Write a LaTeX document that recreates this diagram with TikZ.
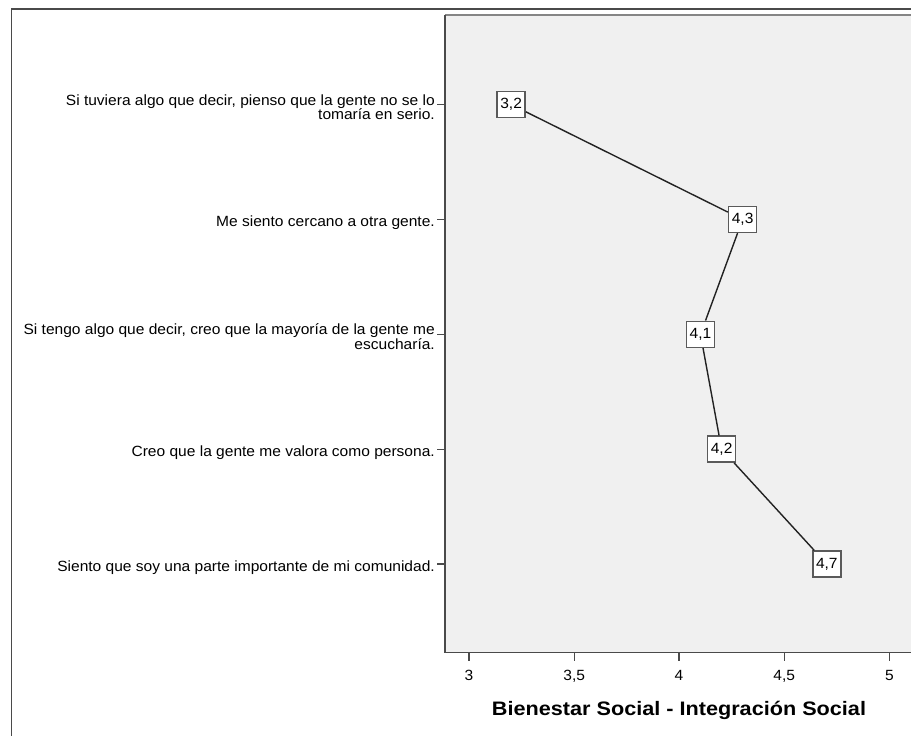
\documentclass[tikz,border=0pt]{standalone}
\usepackage{fontspec}
\setmainfont{Liberation Sans}[FakeStretch=1.05]
\newfontfamily\titlefont{Liberation Sans}[FakeStretch=1.11]
\definecolor{plotbg}{HTML}{F0F0F0}
\definecolor{framecol}{HTML}{4A4A4A}
\definecolor{topcol}{HTML}{858585}
\definecolor{boxcol}{HTML}{5A5A5A}
\definecolor{linecol}{HTML}{222222}
\tikzset{
  lbl/.style={font=\fontsize{14.8}{14.8}\selectfont, inner sep=0pt, text=black},
  ttl/.style={font=\titlefont\bfseries\fontsize{19.5}{19.5}\selectfont, inner sep=0pt},
  valbox/.style={draw=boxcol, fill=white, line width=1.5pt, minimum width=28pt,
    minimum height=26pt, inner sep=0pt, font=\fontsize{14.8}{14.8}\selectfont},
  frameline/.style={draw=framecol, line width=1.6pt},
  axisline/.style={draw=framecol, line width=1.6pt},
  tickline/.style={draw=framecol, line width=1.3pt},
  dataline/.style={draw=linecol, line width=1.4pt}
}
\begin{document}
\begin{tikzpicture}[x=1pt,y=-1pt]
\useasboundingbox (0,0) rectangle (911,736);
\fill[white] (0,0) rectangle (911,736);
% outer frame
\draw[frameline] (11.5,736) -- (11.5,8.7) -- (911,8.7);
% plot area
\fill[plotbg] (445,15) rectangle (911,652.5);
\draw[draw=topcol, line width=2pt] (445,15) -- (911,15);
\draw[axisline] (445,15) -- (445,652.5) -- (911,652.5);
% y ticks
\foreach \yy in {104.5,219.4,334.3,449.2,564.1}{
  \draw[tickline] (437,\yy) -- (445,\yy);
}
% x ticks and labels
\foreach \xx/\tl/\nm in {469/3/t1,574.2/{3,5}/t2,679/4/t3,784.2/{4,5}/t4,889.5/5/t5}{
  \draw[tickline] (\xx,652.5) -- (\xx,661);
  \node[lbl, anchor=base] (\nm) at (\xx,680) {\tl};
}
% title
\node[ttl, anchor=base] (title) at (679,715) {Bienestar Social - Integración Social};
% category labels
\node[lbl, anchor=base east] (c1a) at (435,105) {Si tuviera algo que decir, pienso que la gente no se lo};
\node[lbl, anchor=base east] (c1b) at (435,119.5) {tomaría en serio.};
\node[lbl, anchor=base east] (c2) at (435,226) {Me siento cercano a otra gente.};
\node[lbl, anchor=base east] (c3a) at (435,334.5) {Si tengo algo que decir, creo que la mayoría de la gente me};
\node[lbl, anchor=base east] (c3b) at (435,349) {escucharía.};
\node[lbl, anchor=base east] (c4) at (435,456) {Creo que la gente me valora como persona.};
\node[lbl, anchor=base east] (c5) at (435,571) {Siento que soy una parte importante de mi comunidad.};
% data points
\node[valbox] (p1) at (511.1,104.5) {3,2};
\node[valbox] (p2) at (742.6,219.4) {4,3};
\node[valbox] (p3) at (700.5,334.3) {4,1};
\node[valbox] (p4) at (721.6,449.2) {4,2};
\node[valbox] (p5) at (826.8,564.1) {4,7};
\draw[dataline] (p1) -- (p2);
\draw[dataline] (p2) -- (p3);
\draw[dataline] (p3) -- (p4);
\draw[dataline] (p4) -- (p5);
\end{tikzpicture}
\end{document}
